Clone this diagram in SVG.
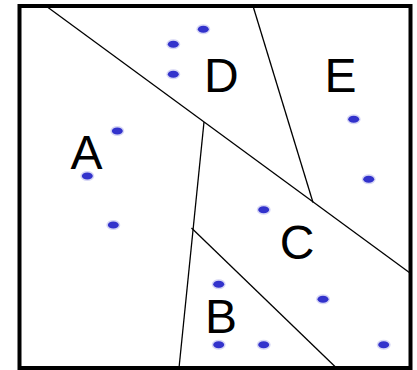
<svg xmlns="http://www.w3.org/2000/svg" width="417" height="370" viewBox="0 0 417 370">
<style>
.frame{fill:none;stroke:#000;stroke-width:4}
.edge{fill:none;stroke:#000;stroke-width:1.3}
.pt{fill:#3333cc;stroke:#3333cc;stroke-opacity:0.2;stroke-width:3}
.lbl{font-family:"Liberation Sans",Arial,sans-serif;font-size:48px;fill:#000;text-anchor:middle}
</style>
<rect width="417" height="370" fill="#fff"/>
<rect class="frame" x="19.5" y="6" width="391" height="362"/>
<g id="connectors">
<line class="edge" x1="46" y1="6" x2="410" y2="273"/>
<line class="edge" x1="253" y1="6" x2="313" y2="202.5"/>
<line class="edge" x1="204" y1="122" x2="179" y2="368"/>
<line class="edge" x1="191.5" y1="228" x2="336.5" y2="368"/>
</g>
<g id="A">
<text class="lbl" x="86.5" y="168.5">A</text>
<ellipse class="pt" cx="117.3" cy="131" rx="5.5" ry="3.5"/>
<ellipse class="pt" cx="87.3" cy="176" rx="5.5" ry="3.5"/>
<ellipse class="pt" cx="113.3" cy="225" rx="5.5" ry="3.5"/>
</g>
<g id="B">
<text class="lbl" x="221" y="332.7">B</text>
<ellipse class="pt" cx="218.7" cy="284.3" rx="5.5" ry="3.5"/>
<ellipse class="pt" cx="218.7" cy="344.7" rx="5.5" ry="3.5"/>
<ellipse class="pt" cx="263.7" cy="344.7" rx="5.5" ry="3.5"/>
</g>
<g id="C">
<text class="lbl" x="297" y="258.5">C</text>
<ellipse class="pt" cx="263.7" cy="209.7" rx="5.5" ry="3.5"/>
<ellipse class="pt" cx="323" cy="299.3" rx="5.5" ry="3.5"/>
<ellipse class="pt" cx="383.7" cy="344.7" rx="5.5" ry="3.5"/>
</g>
<g id="D">
<text class="lbl" x="221.3" y="91.7">D</text>
<ellipse class="pt" cx="203.3" cy="29.3" rx="5.5" ry="3.5"/>
<ellipse class="pt" cx="173.3" cy="44.3" rx="5.5" ry="3.5"/>
<ellipse class="pt" cx="173.3" cy="74.3" rx="5.5" ry="3.5"/>
</g>
<g id="E">
<text class="lbl" x="340.5" y="91.7">E</text>
<ellipse class="pt" cx="353.7" cy="119.3" rx="5.5" ry="3.5"/>
<ellipse class="pt" cx="368.7" cy="179.3" rx="5.5" ry="3.5"/>
</g>
</svg>
